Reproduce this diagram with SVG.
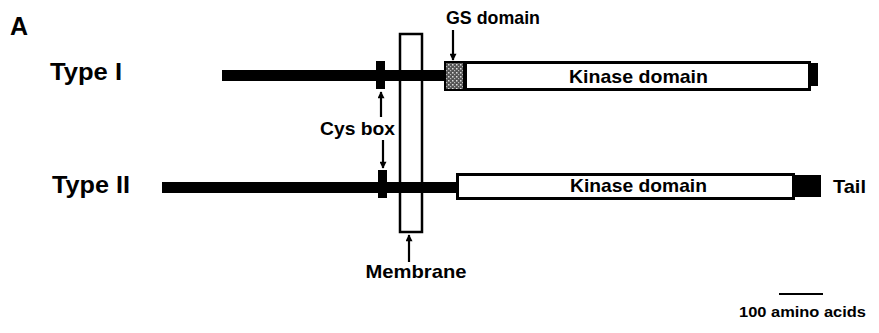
<svg xmlns="http://www.w3.org/2000/svg" width="879" height="333" viewBox="0 0 879 333">
<style>
text{font-family:"Liberation Sans",Arial,sans-serif;font-weight:bold;fill:#000}
.lbl{font-size:19px}
.big{font-size:24px}
.kin{fill:#fff;stroke:#000;stroke-width:3}
.blk{fill:#000}
.conn{stroke:#000;stroke-width:2.2;fill:none}
</style>
<defs>
<marker id="ah" viewBox="0 0 10 10" refX="9" refY="5" markerWidth="8" markerHeight="7" markerUnits="userSpaceOnUse" orient="auto">
<path d="M0,0 L10,5 L0,10 z" fill="#000"/>
</marker>
<pattern id="stip" width="4" height="4" patternUnits="userSpaceOnUse">
<rect width="4" height="4" fill="#555"/>
<rect x="0" y="0" width="1.5" height="1.5" fill="#ddd"/>
<rect x="2" y="2" width="1.2" height="1.2" fill="#bbb"/>
</pattern>
</defs>
<rect width="879" height="333" fill="#fff"/>
<text x="10" y="35" style="font-size:25px">A</text>

<g id="membrane">
<rect x="400" y="34" width="22" height="198" fill="none" stroke="#000" stroke-width="2.5"/>
<text class="lbl" x="416" y="278" text-anchor="middle" textLength="101" lengthAdjust="spacingAndGlyphs">Membrane</text>
</g>

<g id="type1">
<text class="big" x="50" y="80" textLength="72" lengthAdjust="spacingAndGlyphs">Type I</text>
<rect class="blk" x="222" y="70" width="224" height="11"/>
<rect class="blk" x="376" y="61" width="9" height="28"/>
<rect x="445" y="62" width="19" height="28" fill="url(#stip)" stroke="#000" stroke-width="2"/>
<rect class="kin" x="465.5" y="62.5" width="344" height="27"/>
<text class="lbl" x="638.5" y="83" text-anchor="middle" textLength="139" lengthAdjust="spacingAndGlyphs">Kinase domain</text>
<rect class="blk" x="811" y="63" width="7" height="23"/>
</g>

<g id="type2">
<text class="big" x="52" y="193" textLength="78" lengthAdjust="spacingAndGlyphs">Type II</text>
<rect class="blk" x="162" y="182" width="295" height="11"/>
<rect class="blk" x="378" y="170" width="9" height="28"/>
<rect class="kin" x="457.5" y="174.5" width="336" height="24"/>
<text class="lbl" x="638.5" y="192" text-anchor="middle" textLength="137" lengthAdjust="spacingAndGlyphs">Kinase domain</text>
<rect class="blk" x="795" y="175" width="26" height="22"/>
<text class="lbl" x="833" y="193" textLength="33" lengthAdjust="spacingAndGlyphs">Tail</text>
</g>

<g id="gs-label">
<text class="lbl" x="446" y="24" textLength="94" lengthAdjust="spacingAndGlyphs">GS domain</text>
</g>

<g id="cys-label">
<text class="lbl" x="320" y="135" textLength="75" lengthAdjust="spacingAndGlyphs">Cys box</text>
</g>

<g id="scale">
<line x1="779" y1="294" x2="823" y2="294" stroke="#000" stroke-width="2"/>
<text x="739" y="317" style="font-size:15.5px" textLength="127" lengthAdjust="spacingAndGlyphs">100 amino acids</text>
</g>

<g id="connectors" class="conn">
<line x1="453" y1="30" x2="453" y2="60" marker-end="url(#ah)"/>
<line x1="381" y1="117" x2="381" y2="92" marker-end="url(#ah)"/>
<line x1="383" y1="140" x2="383" y2="168" marker-end="url(#ah)"/>
<line x1="409" y1="262" x2="409" y2="235" marker-end="url(#ah)"/>
</g>
</svg>
